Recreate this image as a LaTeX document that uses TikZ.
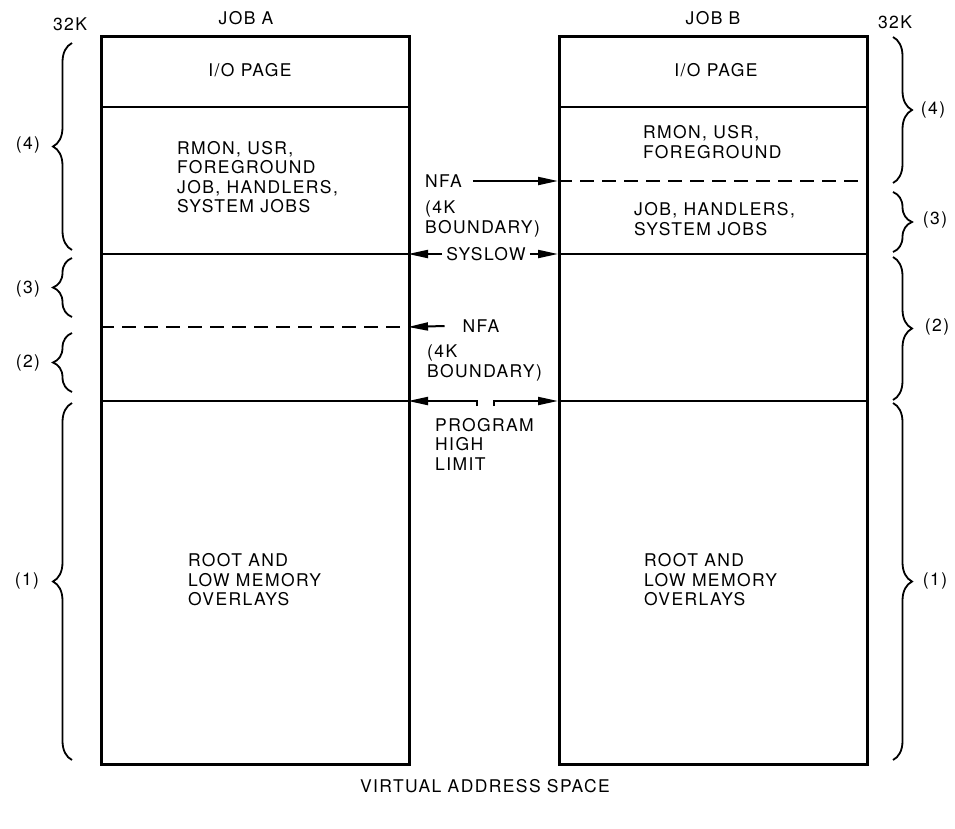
\documentclass[tikz,border=0pt]{standalone}
\usepackage{fontspec}
\setmainfont[LetterSpace=8]{TeX Gyre Heros}
\usetikzlibrary{positioning, arrows.meta, decorations.pathreplacing}

\begin{document}
\begin{tikzpicture}[
    x=1pt, y=-1pt,
    font=\fontsize{17.5}{19.5}\selectfont,
    >={Triangle[length=20pt, width=8pt]},
    lbl/.style={inner sep=0pt, align=left},
    frame/.style={draw, line width=3pt, inner sep=0pt,
        minimum width=308pt, minimum height=728pt, anchor=north west},
    div/.style={line width=2.2pt},
    bnd/.style={line width=2.2pt, dash pattern=on 14pt off 8pt},
    arr/.style={->, line width=2pt},
    brc/.style={decorate, decoration={brace, amplitude=19pt}, line width=1.8pt},
]
\useasboundingbox (0,0) rectangle (955,828);

% --- Frames -------------------------------------------------
\node[frame] (jobA) at (100,35) {};
\node[frame] (jobB) at (558,35) {};

% --- Levels on the frames -----------------------------------
\coordinate (ioA)  at (100,107);
\coordinate (ioB)  at (558,107);
\coordinate (nfaBb) at (558,181);
\coordinate (sysA) at (408,254);
\coordinate (sysB) at (558,254);
\coordinate (nfaAb) at (408,327);
\coordinate (phlA) at (408,401);
\coordinate (phlB) at (558,401);
\coordinate (gapL) at (477,401);
\coordinate (gapR) at (494,401);

\draw[div] (ioA) -- (ioA -| jobA.east);
\draw[div] (ioB) -- (ioB -| jobB.east);
\draw[div] (jobA.west |- sysA) -- (sysA);
\draw[div] (sysB) -- (sysB -| jobB.east);
\draw[div] (jobA.west |- phlA) -- (phlA);
\draw[div] (phlB) -- (phlB -| jobB.east);
\draw[bnd] (nfaBb) -- (nfaBb -| jobB.east);
\draw[bnd] (jobA.west |- nfaAb) -- (nfaAb);

% --- Titles -------------------------------------------------
\node[lbl] (kA)   at (70,24)  {32K};
\node[lbl] (titA) at (246,18) {JOB\hspace{6pt}A};
\node[lbl] (titB) at (713,18) {JOB B};
\node[lbl] (kB)   at (895,22) {32K};

% --- Job A contents -----------------------------------------
\node[lbl] (pageA) at (250,70) {I/O PAGE};
\node[lbl, anchor=west] (monA) at (177,177)
    {RMON, USR,\\FOREGROUND\\JOB, HANDLERS,\\SYSTEM JOBS};
\node[lbl, anchor=west] (rootA) at (188,580)
    {ROOT AND\\LOW MEMORY\\OVERLAYS};

% --- Job B contents -----------------------------------------
\node[lbl] (pageB) at (716,70) {I/O PAGE};
\node[lbl, anchor=west] (monB) at (643,142) {RMON, USR,\\FOREGROUND};
\node[lbl, anchor=west] (jobsB) at (634,219) {JOB, HANDLERS,\\SYSTEM JOBS};
\node[lbl, anchor=west] (rootB) at (644,580)
    {ROOT AND\\LOW MEMORY\\OVERLAYS};

% --- Pointers between the frames ----------------------------
\node[lbl, anchor=west] (nfaB) at (425,181) {NFA};
\node[lbl, anchor=west] (kbB) at (425,219) {(4K\\BOUNDARY)};
\node[lbl] (syslow) at (486,254) {SYSLOW};
\node[lbl] (nfaA) at (481,326) {NFA};
\node[lbl, anchor=west] (kbA) at (427,363) {(4K\\BOUNDARY)};
\node[lbl, anchor=west] (phl) at (435,444) {PROGRAM\\HIGH\\LIMIT};

\draw[arr] ([xshift=11pt]nfaB.east) -- (nfaBb);
\draw[arr] ([xshift=-4pt]syslow.west) -- (sysA);
\draw[arr] ([xshift=4pt]syslow.east) -- (sysB);
\draw[arr] ([xshift=-18pt]nfaA.west) -- (nfaAb);
\draw[arr] ([yshift=-5pt]gapL) -- (gapL) -- (phlA);
\draw[arr] ([yshift=-5pt]gapR) -- (gapR) -- (phlB);

% --- Braces, job A ------------------------------------------
\draw[brc] (72,250) -- (72,43);
\draw[brc] (72,317) -- (72,258);
\draw[brc] (72,392) -- (72,333);
\draw[brc] (72,760) -- (72,403);
\node[lbl] (a4) at (28,145) {(4)};
\node[lbl] (a3) at (28,289) {(3)};
\node[lbl] (a2) at (28,363) {(2)};
\node[lbl] (a1) at (27,581) {(1)};

% --- Braces, job B ------------------------------------------
\draw[brc] (893,37) -- (893,183);
\draw[brc] (893,192) -- (893,252);
\draw[brc] (893,257) -- (893,400);
\draw[brc] (893,403) -- (893,760);
\node[lbl] (b4) at (933,110) {(4)};
\node[lbl] (b3) at (935,220) {(3)};
\node[lbl] (b2) at (937,327) {(2)};
\node[lbl] (b1) at (935,581) {(1)};

% --- Caption ------------------------------------------------
\node[lbl] (vas) at (485,786) {VIRTUAL ADDRESS SPACE};

\end{tikzpicture}
\end{document}
